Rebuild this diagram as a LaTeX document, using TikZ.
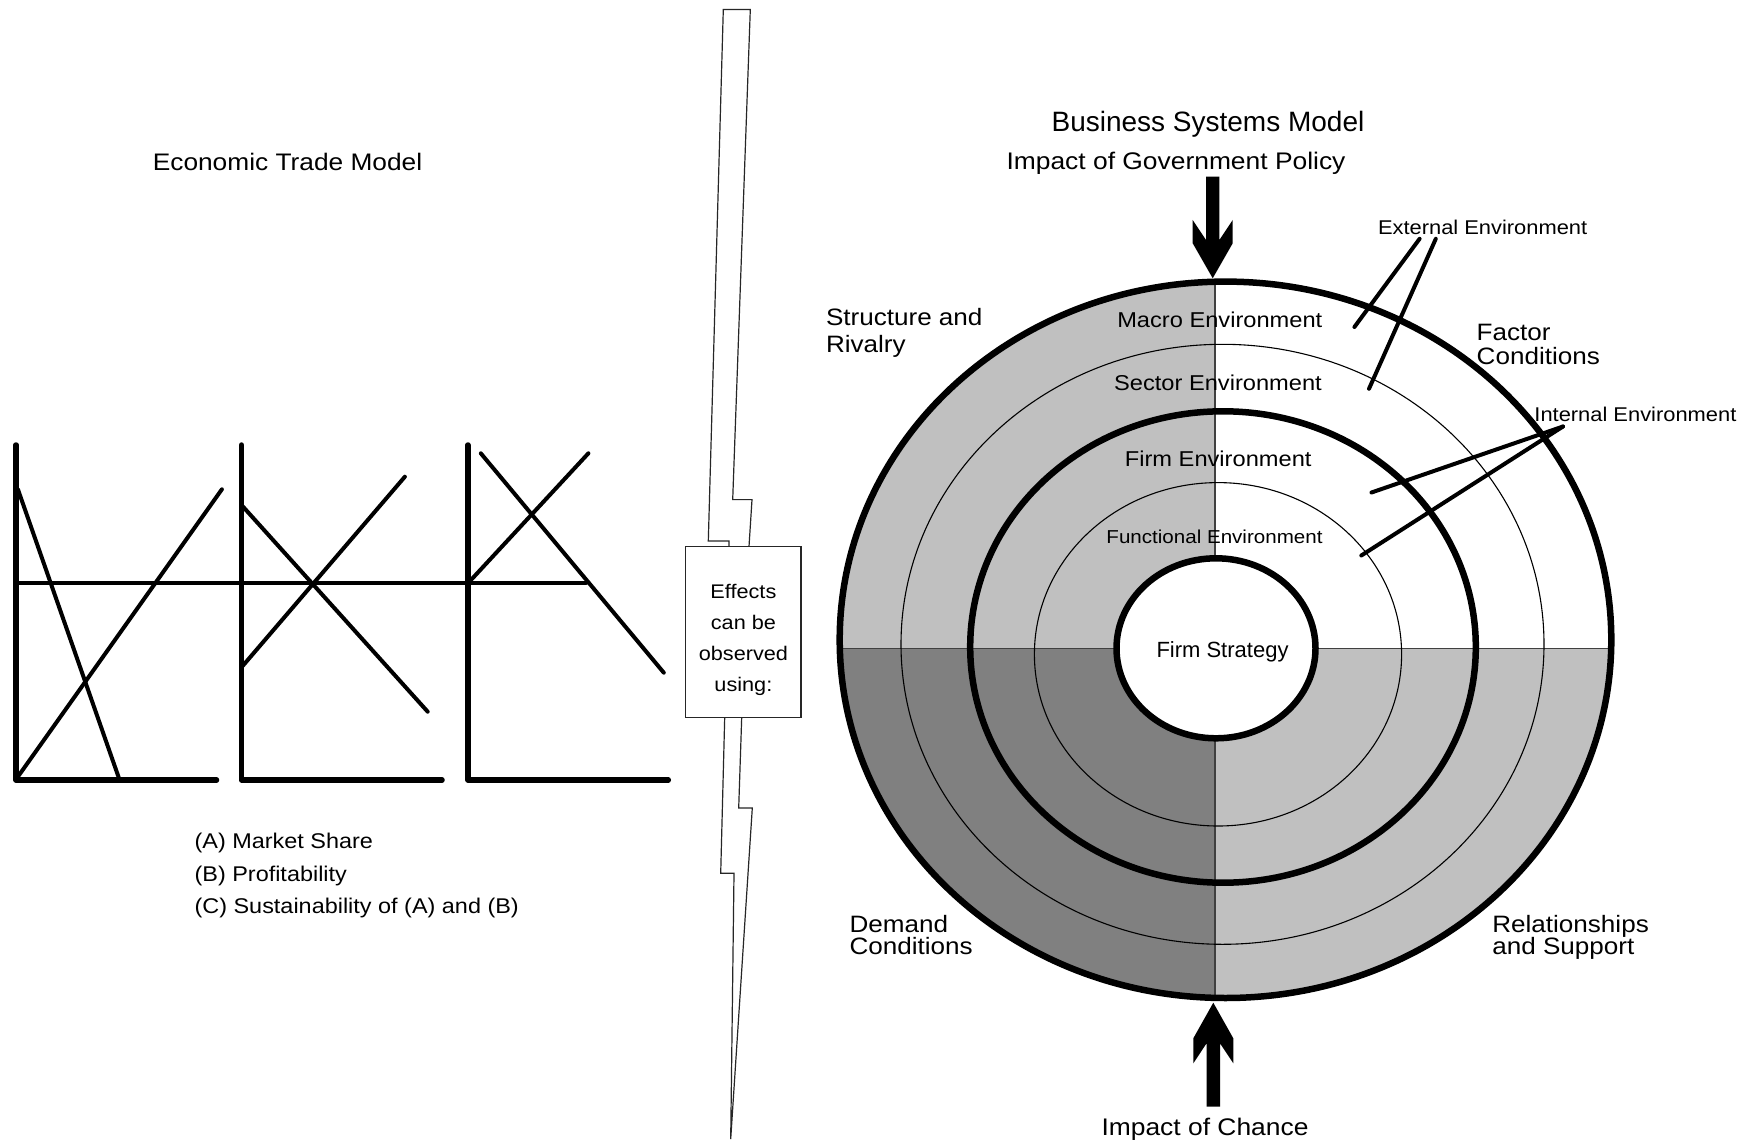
\documentclass[tikz,border=0pt]{standalone}
\usepackage{fontspec}
\setmainfont{Liberation Sans}[FakeStretch=1.1]
\newfontfamily\plainsans{Liberation Sans}
\definecolor{ringlight}{HTML}{C0C0C0}
\definecolor{ringdark}{HTML}{808080}

\begin{document}
\begin{tikzpicture}[x=1pt,y=-1pt,
  axisline/.style={line width=5.5pt, line cap=round, line join=round},
  plotline/.style={line width=4pt, line cap=round},
  thickring/.style={line width=6.5pt},
  thinring/.style={line width=1.1pt},
  divider/.style={line width=1.2pt, draw=black!75},
  pointer/.style={line width=4pt, line cap=round},
  bolt/.style={draw=black!85, line width=1.2pt, fill=white, line join=miter},
  txt/.style={inner sep=0pt, outer sep=0pt},
  title/.style={txt, font=\fontsize{23.9}{26}\selectfont},
  listtxt/.style={txt, font=\fontsize{21.3}{24}\selectfont},
  boxtxt/.style={txt, font=\fontsize{19.7}{22}\selectfont},
  corner/.style={txt, font=\fontsize{23.7}{24}\selectfont},
  envtxt/.style={txt, font=\fontsize{21.5}{24}\selectfont},
  smalltxt/.style={txt, font=\fontsize{19.9}{22}\selectfont},
]
\useasboundingbox (0,0) rectangle (1754,1142);
\fill[white] (0,0) rectangle (1754,1142);

% ---------------- ring centres ----------------
\coordinate (outerC) at (1225.5,639.8);
\coordinate (sectorC) at (1222.5,644.3);
\coordinate (firmC) at (1223,647);
\coordinate (funcC) at (1218,654.3);
\coordinate (coreC) at (1216,648.3);

% quadrant shading inside the outer ring
\begin{scope}
  \clip (outerC) ellipse [x radius=385.8pt, y radius=358.2pt];
  \fill[ringlight] (800,200) rectangle (1215,648.3);
  \fill[ringdark]  (800,648.3) rectangle (1215,1050);
  \fill[ringlight] (1215,648.3) rectangle (1650,1050);
  \draw[divider] (1215,200) -- (1215,1050);
  \draw[divider] (800,648.3) -- (1650,648.3);
\end{scope}

% rings
\draw[thinring] (sectorC) ellipse [x radius=321.5pt, y radius=300pt];
\draw[thinring] (funcC) ellipse [x radius=183.6pt, y radius=171.7pt];
\draw[thickring] (outerC) ellipse [x radius=385.8pt, y radius=358.2pt];
\draw[thickring] (firmC) ellipse [x radius=252.8pt, y radius=235.7pt];
\draw[thickring, fill=white] (coreC) ellipse [x radius=99.5pt, y radius=90pt];

% ring labels
\node[envtxt, anchor=base] (macro) at (1219.8,327.7) {Macro Environment};
\node[envtxt, anchor=base] (sector) at (1218,390.3) {Sector Environment};
\node[envtxt, anchor=base] (firmenv) at (1218.2,466.3) {Firm Environment};
\node[txt, font=\fontsize{18.7}{21}\selectfont, anchor=base] (funcenv) at (1214.5,543.5) {Functional Environment};
\node[txt, font=\plainsans\fontsize{22}{24}\selectfont, anchor=base] (strategy) at (1222.5,657) {Firm Strategy};

% headings of the business systems side
\node[txt, font=\plainsans\fontsize{28}{30}\selectfont, anchor=base] (bsm) at (1208,131.2) {Business Systems Model};
\node[title, font=\fontsize{24}{26}\selectfont, anchor=base] (gov) at (1176,169.3) {Impact of Government Policy};
\node[title, font=\fontsize{24}{26}\selectfont, anchor=base] (chance) at (1205,1135) {Impact of Chance};

% corner labels
\node[corner, anchor=base west] (struct1) at (826,325) {Structure and};
\node[corner, anchor=base west] (struct2) at (826,352) {Rivalry};
\node[corner, anchor=base west] (factor1) at (1476.7,340.5) {Factor};
\node[corner, anchor=base west] (factor2) at (1476.7,364.8) {Conditions};
\node[corner, anchor=base west] (demand1) at (849.5,932) {Demand};
\node[corner, anchor=base west] (demand2) at (849.5,954.5) {Conditions};
\node[corner, anchor=base west] (rel1) at (1492.3,932) {Relationships};
\node[corner, anchor=base west] (rel2) at (1492.3,954.5) {and Support};

% environment call-outs
\node[smalltxt, anchor=base west] (external) at (1378,234.3) {External Environment};
\node[smalltxt, anchor=base west] (internal) at (1534.4,421.7) {Internal Environment};
\coordinate (extA) at (1419.6,238.8);
\coordinate (extB) at (1435.8,238.8);
\coordinate (macroPt) at (1354.4,327);
\coordinate (sectorPt) at (1369,388.8);
\coordinate (intA) at (1563,426.5);
\coordinate (firmPt) at (1371.5,492.5);
\coordinate (funcPt) at (1361.3,555.5);
\draw[pointer] (extA) -- (macroPt);
\draw[pointer] (extB) -- (sectorPt);
\draw[pointer] (intA) -- (firmPt);
\draw[pointer] (intA) -- (funcPt);

% policy and chance arrows
\coordinate (govTip) at (1212.7,278.3);
\coordinate (chanceTip) at (1213.3,1002.7);
\fill[shift={(govTip)}] (-6.7,-101.6) -- (6.7,-101.6) -- (6.7,-38.3) -- (20,-58.3)
   -- (20,-35) -- (0,0) -- (-20,-35) -- (-20,-58.3) -- (-6.7,-38.3) -- cycle;
\fill[shift={(chanceTip)}] (-6.7,104) -- (6.7,104) -- (6.7,40.6) -- (20,60.6)
   -- (20,35.6) -- (0,0) -- (-20,35.6) -- (-20,60.6) -- (-6.7,40.6) -- cycle;

% ---------------- lightning separator ----------------
\draw[bolt] (749,546.5) -- (752,499.6) -- (732.7,499.6) -- (750.3,9.5) -- (723.3,9.5)
   -- (708.3,541) -- (729,541) -- (729,546.5);
\draw[bolt] (724.7,717.4) -- (720.7,873.3) -- (734,873.3) -- (730.7,1139)
   -- (752.3,808) -- (738.7,808) -- (741.7,717.4);
\node[draw=black!85, line width=1.3pt, fill=white, minimum width=115.3pt,
      minimum height=170.9pt, inner sep=0pt] (effbox) at (743.4,632) {};
\node[boxtxt, anchor=base] (eff1) at (743.4,598.8) {Effects};
\node[boxtxt, anchor=base] (eff2) at (743.4,629.8) {can be};
\node[boxtxt, anchor=base] (eff3) at (743.4,660.8) {observed};
\node[boxtxt, anchor=base] (eff4) at (743.4,691.8) {using:};

% ---------------- economic trade model ----------------
\node[title, anchor=base] (etm) at (287.5,170.7) {Economic Trade Model};

\draw[plotline] (16,583.3) -- (586,583.3);
% chart A
\draw[axisline] (16.1,445) -- (16.1,780) -- (216.5,780);
\draw[plotline] (17.9,489.3) -- (119.6,780);
\draw[plotline] (17.9,776.7) -- (221.9,489.3);
% chart B
\draw[axisline] (241.5,445) -- (241.5,780) -- (442,780);
\draw[plotline] (241.5,505) -- (427.7,711.7);
\draw[plotline] (241.5,667.3) -- (404.9,476.7);
% chart C
\draw[axisline] (467.9,445) -- (467.9,780) -- (668.3,780);
\draw[plotline] (480.8,453.3) -- (663.8,672.7);
\draw[plotline] (467.9,583.3) -- (588.4,453.3);

\node[listtxt, anchor=base west] (itemA) at (194.6,848.8) {(A) Market Share};
\node[listtxt, anchor=base west] (itemB) at (194.6,881.2) {(B) Profitability};
\node[listtxt, anchor=base west] (itemC) at (194.6,913.7) {(C) Sustainability of (A) and (B)};
\end{tikzpicture}
\end{document}
